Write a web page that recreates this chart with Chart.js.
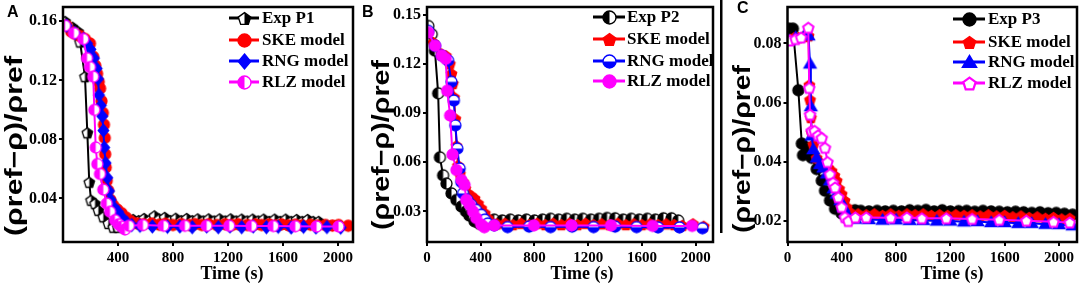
<!DOCTYPE html>
<html>
<head>
<meta charset="utf-8">
<script src="https://cdn.jsdelivr.net/npm/chart.js@4/dist/chart.umd.min.js"></script>
<style>
  html,body{margin:0;padding:0;background:#fff;}
  #wrap{position:relative;width:1084px;height:286px;overflow:hidden;}
  canvas{position:absolute;top:0;}
</style>
</head>
<body>
<div id="wrap">
  <canvas id="cA" width="360" height="286" style="left:0px"></canvas>
  <canvas id="cB" width="360" height="286" style="left:360px"></canvas>
  <canvas id="cC" width="364" height="286" style="left:720px"></canvas>
</div>
<script>
// ---------- DATA (time s, (ρref−ρ)/ρref) ----------
const seriesLabelsA = ["Exp P1", "SKE model", "RNG model", "RLZ model"];
const seriesLabelsB = ["Exp P2", "SKE model", "RNG model", "RLZ model"];
const seriesLabelsC = ["Exp P3", "SKE model", "RNG model", "RLZ model"];

const xTicksA = [400, 800, 1200, 1600, 2000];
const xTicksB = [0, 400, 800, 1200, 1600, 2000];
const xTicksC = [0, 400, 800, 1200, 1600, 2000];
const yTicksA = [0.04, 0.08, 0.12, 0.16];
const yTicksB = [0.03, 0.06, 0.09, 0.12, 0.15];
const yTicksC = [0.02, 0.04, 0.06, 0.08];

const A_exp = [[15,0.160],[70,0.156],[110,0.153],[124,0.146],[160,0.1225],[177,0.0845],[191,0.051],[204,0.0388],[233,0.0365],[257,0.032],[293,0.0276],[330,0.0231],[366,0.0205],[400,0.0205],[440,0.0215],[475,0.0245],[510,0.0258],[550,0.025],[590,0.0265],[630,0.0252],[665,0.0282],[700,0.026],[740,0.0272],[780,0.025],[820,0.0266],[860,0.025],[900,0.0265],[940,0.025],[980,0.0262],[1020,0.0248],[1060,0.0262],[1100,0.0248],[1140,0.0262],[1180,0.0248],[1220,0.0262],[1260,0.0248],[1300,0.026],[1340,0.0248],[1380,0.026],[1420,0.0248],[1460,0.026],[1500,0.0245],[1540,0.026],[1580,0.0245],[1620,0.026],[1660,0.0245],[1700,0.0258],[1740,0.0245],[1780,0.0258],[1820,0.0245],[1860,0.0245]];
const A_ske = [[27,0.157],[60,0.153],[87,0.1515],[125,0.150],[160,0.148],[196,0.145],[220,0.136],[235,0.130],[248,0.1245],[260,0.119],[270,0.1145],[280,0.106],[290,0.098],[298,0.090],[304,0.081],[307,0.070],[311,0.061],[318,0.052],[328,0.0455],[345,0.039],[365,0.0354],[395,0.0325],[427,0.030],[460,0.027],[495,0.0245],[540,0.023],[585,0.0225],[645,0.023],[700,0.0222],[745,0.0228],[800,0.022],[860,0.0226],[920,0.022],[960,0.0226],[1010,0.022],[1060,0.0225],[1120,0.022],[1180,0.0225],[1230,0.022],[1275,0.0225],[1340,0.022],[1400,0.0224],[1445,0.022],[1500,0.0224],[1550,0.0218],[1590,0.0224],[1640,0.0218],[1690,0.0222],[1740,0.0218],[1800,0.0222],[1850,0.0216],[1910,0.022],[1960,0.0216],[2005,0.022],[2075,0.0215]];
const A_rng = [[27,0.157],[87,0.152],[150,0.148],[175,0.145],[200,0.141],[225,0.135],[245,0.128],[255,0.121],[262,0.110],[275,0.103],[286,0.0957],[294,0.086],[300,0.0745],[310,0.064],[322,0.054],[335,0.045],[347,0.039],[370,0.034],[400,0.031],[430,0.027],[465,0.0235],[500,0.022],[560,0.0215],[650,0.021],[760,0.0208],[850,0.021],[940,0.0205],[1045,0.021],[1130,0.0205],[1215,0.021],[1300,0.0205],[1384,0.021],[1480,0.0205],[1566,0.0208],[1660,0.0203],[1750,0.0208],[1840,0.0203],[1920,0.0206],[2020,0.0202]];
const A_rlz = [[15,0.157],[80,0.152],[148,0.148],[175,0.135],[196,0.129],[220,0.1225],[228,0.100],[238,0.0745],[250,0.0633],[269,0.0566],[293,0.046],[318,0.0365],[342,0.031],[378,0.0253],[405,0.0225],[427,0.0209],[451,0.019],[480,0.0215],[582,0.022],[732,0.0215],[887,0.0215],[1045,0.0215],[1210,0.0215],[1372,0.0213],[1530,0.0213],[1690,0.0212],[1845,0.021],[2005,0.021]];

const B_exp = [[10,0.143],[35,0.138],[59,0.128],[83,0.102],[96,0.063],[120,0.052],[145,0.047],[182,0.041],[219,0.037],[256,0.033],[290,0.030],[315,0.0275],[354,0.024],[390,0.0225],[430,0.022],[470,0.0235],[500,0.025],[560,0.0245],[620,0.025],[680,0.0245],[740,0.025],[800,0.0245],[860,0.025],[920,0.0255],[980,0.025],[1040,0.0255],[1100,0.025],[1160,0.0255],[1220,0.025],[1280,0.0255],[1340,0.026],[1400,0.0258],[1460,0.025],[1520,0.0255],[1580,0.025],[1640,0.0255],[1700,0.025],[1760,0.0258],[1820,0.0258],[1870,0.0245]];
const B_ske = [[10,0.140],[47,0.133],[108,0.126],[140,0.125],[170,0.120],[182,0.114],[192,0.108],[201,0.0996],[211,0.0865],[219,0.070],[231,0.058],[245,0.053],[268,0.048],[285,0.044],[304,0.041],[330,0.0395],[354,0.038],[380,0.035],[403,0.032],[430,0.029],[452,0.026],[476,0.0235],[520,0.0225],[580,0.0228],[640,0.022],[700,0.0228],[760,0.022],[820,0.0228],[880,0.022],[940,0.0228],[1000,0.022],[1060,0.0228],[1120,0.022],[1180,0.0228],[1240,0.022],[1300,0.0225],[1360,0.022],[1420,0.0228],[1480,0.022],[1540,0.0225],[1600,0.022],[1660,0.0225],[1720,0.022],[1780,0.0225],[1840,0.022],[1900,0.0215],[1980,0.0225],[2060,0.021]];
const B_rng = [[10,0.140],[60,0.131],[110,0.125],[157,0.122],[182,0.109],[200,0.0976],[211,0.0825],[226,0.0683],[243,0.0562],[255,0.048],[268,0.041],[300,0.037],[329,0.034],[365,0.031],[403,0.028],[430,0.025],[452,0.0226],[500,0.0215],[600,0.0205],[760,0.0208],[920,0.0205],[1080,0.0208],[1240,0.0205],[1400,0.0208],[1560,0.0205],[1720,0.0203],[1880,0.0203],[2050,0.0198]];
const B_rlz = [[10,0.139],[60,0.131],[110,0.125],[140,0.123],[150,0.1036],[172,0.0885],[190,0.0647],[219,0.0553],[256,0.0492],[280,0.0462],[292,0.0371],[317,0.0341],[342,0.030],[366,0.026],[403,0.022],[427,0.0204],[501,0.0215],[796,0.0215],[1076,0.0215],[1370,0.0215],[1680,0.0212],[1974,0.0212]];

const C_exp = [[10,0.085],[40,0.085],[80,0.0642],[105,0.0462],[114,0.0423],[141,0.0448],[178,0.0414],[215,0.0376],[252,0.0337],[276,0.0303],[313,0.027],[350,0.0242],[399,0.0226],[440,0.021],[470,0.022],[497,0.0237],[540,0.0235],[600,0.0233],[660,0.0235],[720,0.0233],[780,0.0235],[840,0.0233],[900,0.0237],[960,0.0235],[1020,0.0238],[1080,0.0233],[1140,0.0237],[1200,0.0233],[1260,0.0234],[1320,0.0235],[1380,0.0232],[1440,0.0235],[1500,0.0233],[1560,0.0232],[1620,0.023],[1680,0.0232],[1740,0.023],[1800,0.0228],[1860,0.023],[1920,0.0227],[1980,0.0228],[2040,0.0225],[2100,0.0222]];
const C_ske = [[18,0.0814],[50,0.082],[80,0.082],[120,0.0824],[155,0.0826],[161,0.066],[166,0.061],[172,0.055],[178,0.050],[190,0.0459],[215,0.0414],[250,0.0395],[280,0.0385],[300,0.038],[325,0.037],[345,0.0355],[362,0.0337],[380,0.031],[399,0.0292],[420,0.027],[436,0.0248],[455,0.0232],[473,0.022],[520,0.0225],[580,0.0222],[640,0.0225],[700,0.022],[760,0.0225],[820,0.022],[880,0.0225],[940,0.0222],[1000,0.0225],[1060,0.022],[1120,0.0222],[1180,0.022],[1240,0.0222],[1300,0.022],[1360,0.0222],[1420,0.0218],[1480,0.0222],[1540,0.0218],[1600,0.022],[1660,0.0215],[1720,0.0218],[1780,0.0213],[1840,0.0215],[1900,0.021],[1960,0.0213],[2020,0.0208],[2080,0.021]];
const C_rng = [[10,0.081],[60,0.082],[129,0.083],[155,0.0826],[166,0.0731],[172,0.0587],[178,0.0488],[190,0.0442],[215,0.0414],[239,0.0392],[264,0.038],[290,0.036],[313,0.0337],[340,0.031],[362,0.0292],[390,0.027],[411,0.0248],[430,0.023],[448,0.0214],[500,0.0207],[600,0.0206],[700,0.0204],[800,0.0205],[900,0.0203],[1000,0.0203],[1100,0.0201],[1200,0.0201],[1300,0.0198],[1400,0.0199],[1500,0.0196],[1600,0.0196],[1700,0.0193],[1800,0.0193],[1900,0.019],[2000,0.0189],[2100,0.0185]];
const C_rlz = [[18,0.081],[60,0.0815],[100,0.082],[153,0.0853],[160,0.065],[166,0.056],[178,0.0505],[200,0.0505],[225,0.049],[252,0.0481],[276,0.0448],[295,0.040],[313,0.0359],[335,0.033],[350,0.0314],[374,0.0281],[399,0.0248],[423,0.0214],[448,0.0201],[500,0.0213],[580,0.0213],[760,0.0212],[880,0.0213],[990,0.021],[1170,0.021],[1360,0.0208],[1560,0.0205],[1760,0.0202],[1960,0.0198],[2080,0.0196]];

// ---------- MARKERS ----------
function shapePath(g, shape, cx, cy, r) {
  g.beginPath();
  if (shape === 'circle') { g.arc(cx, cy, r, 0, Math.PI * 2); }
  else if (shape === 'pentagon') {
    for (let i = 0; i < 5; i++) { const a = -Math.PI/2 + i*2*Math.PI/5; const x = cx + r*Math.cos(a), y = cy + r*Math.sin(a) + r*0.1; i ? g.lineTo(x,y) : g.moveTo(x,y); }
    g.closePath();
  } else if (shape === 'diamond') {
    g.moveTo(cx, cy - r*1.15); g.lineTo(cx + r*0.95, cy); g.lineTo(cx, cy + r*1.15); g.lineTo(cx - r*0.95, cy); g.closePath();
  } else if (shape === 'triangle') {
    g.moveTo(cx, cy - r*1.1); g.lineTo(cx + r*1.1, cy + r*0.75); g.lineTo(cx - r*1.1, cy + r*0.75); g.closePath();
  }
}
function makeMarker(shape, color, fill, size, lw) {
  const s = Math.ceil(size + 6);
  const c = document.createElement('canvas'); c.width = s; c.height = s;
  const g = c.getContext('2d'); const cx = s/2, cy = s/2, r = size/2;
  shapePath(g, shape, cx, cy, r);
  if (fill === 'full') { g.fillStyle = color; g.fill(); }
  else {
    g.fillStyle = '#fff'; g.fill();
    g.save(); shapePath(g, shape, cx, cy, r); g.clip(); g.fillStyle = color;
    if (fill === 'left') g.fillRect(0, 0, cx, s);
    else if (fill === 'right') g.fillRect(cx, 0, s, s);
    else if (fill === 'bottom') g.fillRect(0, cy, s, s);
    g.restore();
  }
  shapePath(g, shape, cx, cy, r); g.lineWidth = lw || 1.3; g.strokeStyle = color; g.stroke();
  return c;
}

const BLACK = '#000000', RED = '#ff0000', BLUE = '#0000ff', MAG = '#ff00ff';
const markerSpecs = {
  A: [['pentagon', BLACK, 'right'], ['circle', RED, 'full'], ['diamond', BLUE, 'full'], ['circle', MAG, 'left']],
  B: [['circle', BLACK, 'left'], ['pentagon', RED, 'full'], ['circle', BLUE, 'bottom'], ['circle', MAG, 'full']],
  C: [['circle', BLACK, 'full'], ['pentagon', RED, 'full'], ['triangle', BLUE, 'full'], ['pentagon', MAG, 'none']]
};
const colors = [BLACK, RED, BLUE, MAG];

// ---------- PANELS (layout) ----------
const panels = [
  { key:'A', canvas:'cA', labels:seriesLabelsA, data:[A_exp, A_ske, A_rng, A_rlz], xTicks:xTicksA, yTicks:yTicksA,
    xMin:0, xMax:2110, yMin:0.0105, yMax:0.1697, chartLeft:63, padR:7, top:4,
    letter:[7,13], yTitle:[15,146,180], xTitle:232, legend:{x1:229, x2:259, tx:262, rows:[18,40,61,82]}, sideBar:false },
  { key:'B', canvas:'cB', labels:seriesLabelsB, data:[B_exp, B_ske, B_rng, B_rlz], xTicks:xTicksB, yTicks:yTicksB,
    xMin:0, xMax:2129, yMin:0.0114, yMax:0.1546, chartLeft:67, padR:4, top:4,
    letter:[2,13], yTitle:[22.5,145,170], xTitle:222, legend:{x1:233, x2:265, tx:267, rows:[17,39,61,81]}, sideBar:false },
  { key:'C', canvas:'cC', labels:seriesLabelsC, data:[C_exp, C_ske, C_rng, C_rlz], xTicks:xTicksC, yTicks:yTicksC,
    xMin:0, xMax:2133, yMin:0.013, yMax:0.0923, chartLeft:67.5, padR:7, top:4,
    letter:[17,9], yTitle:[23,149,168], xTitle:232, legend:{x1:233, x2:265, tx:268, rows:[19,42,62,83]}, sideBar:true }
];

const Y_TITLE = '(\u03C1ref\u2212\u03C1)/\u03C1ref';
const X_TITLE = 'Time (s)';

function makeDecor(P) {
  return {
    id: 'decor' + P.key,
    afterDraw(chart) {
      const ctx = chart.ctx, a = chart.chartArea;
      ctx.save();
      ctx.lineWidth = 2.5; ctx.strokeStyle = '#000';
      ctx.strokeRect(a.left, a.top, a.right - a.left, a.bottom - a.top);
      if (P.sideBar) { ctx.fillStyle = '#000'; ctx.fillRect(0, 0, 2.5, 233); }
      // legend
      ctx.font = 'bold 17px "Liberation Serif"'; ctx.textBaseline = 'middle'; ctx.textAlign = 'left';
      chart.data.datasets.forEach((ds, i) => {
        const y = P.legend.rows[i];
        ctx.strokeStyle = ds.borderColor; ctx.lineWidth = 3;
        ctx.beginPath(); ctx.moveTo(P.legend.x1, y); ctx.lineTo(P.legend.x2, y); ctx.stroke();
        const img = ds.legendMarker;
        ctx.drawImage(img, Math.round((P.legend.x1 + P.legend.x2)/2 - img.width/2), Math.round(y - img.height/2));
        ctx.fillStyle = '#000'; ctx.fillText(ds.label, P.legend.tx, y + 1);
      });
      // panel letter
      ctx.font = 'bold 16px "Liberation Sans"'; ctx.textBaseline = 'middle'; ctx.fillStyle = '#000';
      ctx.fillText(P.key, P.letter[0], P.letter[1]);
      // y title
      ctx.save();
      ctx.translate(P.yTitle[0], P.yTitle[1]); ctx.rotate(-Math.PI/2);
      ctx.font = 'bold 24px "Liberation Sans"'; ctx.textAlign = 'center'; ctx.textBaseline = 'middle';
      const w = ctx.measureText(Y_TITLE).width;
      ctx.scale(P.yTitle[2] / w, 1);
      ctx.fillText(Y_TITLE, 0, 0);
      ctx.restore();
      // x title
      ctx.font = 'bold 18px "Liberation Serif"'; ctx.textAlign = 'center'; ctx.textBaseline = 'middle';
      ctx.fillText(X_TITLE, P.xTitle, 274);
      ctx.restore();
    }
  };
}

panels.forEach(P => {
  const specs = markerSpecs[P.key];
  const datasets = P.data.map((arr, i) => ({
    label: P.labels[i],
    data: arr.map(([x, y]) => ({ x, y })),
    borderColor: colors[i], backgroundColor: colors[i], borderWidth: 2,
    pointStyle: makeMarker(specs[i][0], specs[i][1], specs[i][2], 11, specs[i][2] === 'none' ? 2 : 1.3),
    legendMarker: makeMarker(specs[i][0], specs[i][1], specs[i][2], 13, specs[i][2] === 'none' ? 2.2 : 1.4),
    pointRadius: 5, pointHoverRadius: 5, tension: 0, order: 4 - i
  }));
  const tickFont = { family: 'Liberation Serif', size: 15, weight: 'bold' };
  new Chart(document.getElementById(P.canvas), {
    type: 'line',
    data: { datasets },
    options: {
      responsive: false, animation: false, devicePixelRatio: 1, events: [],
      layout: { padding: { left: 0, right: P.padR, top: P.top, bottom: 0 } },
      plugins: { legend: { display: false }, tooltip: { enabled: false } },
      scales: {
        x: {
          type: 'linear', min: P.xMin, max: P.xMax,
          afterBuildTicks: s => { s.ticks = P.xTicks.map(v => ({ value: v })); },
          afterFit: s => { s.height = 44; s.paddingLeft = 0; s.paddingRight = 0; },
          ticks: { color: '#000', font: tickFont, padding: 3, maxRotation: 0, autoSkip: false, callback: v => String(v) },
          grid: { drawOnChartArea: false, color: '#000', lineWidth: 2, tickLength: 4 },
          border: { display: false }
        },
        y: {
          type: 'linear', min: P.yMin, max: P.yMax,
          afterBuildTicks: s => { s.ticks = P.yTicks.map(v => ({ value: v })); },
          afterFit: s => { s.width = P.chartLeft; s.paddingTop = 0; s.paddingBottom = 0; },
          ticks: { color: '#000', font: { family: 'Liberation Serif', size: 16, weight: 'bold' }, padding: 2, autoSkip: false, callback: v => v.toFixed(2) },
          grid: { drawOnChartArea: false, color: '#000', lineWidth: 2, tickLength: 4 },
          border: { display: false }
        }
      }
    },
    plugins: [makeDecor(P)]
  });
});
</script>
</body>
</html>
